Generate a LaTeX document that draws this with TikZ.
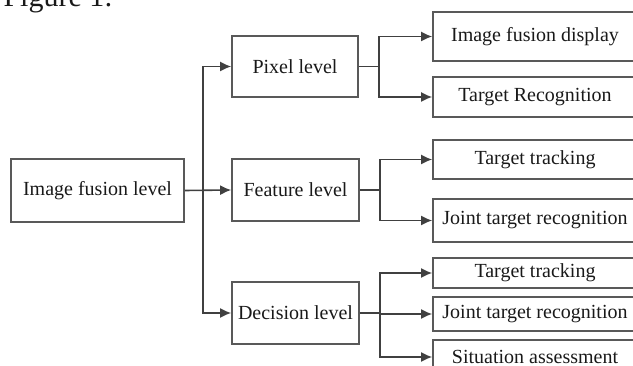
\documentclass[tikz,border=0pt]{standalone}
\usepackage{fontspec}
\setmainfont{Liberation Serif}
\usetikzlibrary{arrows.meta}
\begin{document}
\begin{tikzpicture}[x=1pt,y=-1pt,
  box/.style={draw=black!65,line width=1.6pt,inner sep=0pt,align=center,
    font=\fontsize{20}{24}\selectfont,text=black!90},
  conn/.style={draw=black!75,line width=1.6pt},
  arr/.style={conn,-{Latex[length=11pt,width=10pt]}}]
\useasboundingbox (0,0) rectangle (633,366);
\clip (0,0) rectangle (633,366);
\node[anchor=base west,font=\fontsize{30}{36}\selectfont,text=black!90] (fig) at (0,7) {Figure 1:};
% level boxes
\node[box,minimum width=173pt,minimum height=63pt] (ifl) at (97.5,190.5) {Image fusion level};
\node[box,minimum width=126pt,minimum height=61pt] (pix) at (295,66.5) {Pixel level};
\node[box,minimum width=127pt,minimum height=62pt] (feat) at (295.5,190) {Feature level};
\node[box,minimum width=127pt,minimum height=62pt] (dec) at (295.5,313) {Decision level};
% result boxes
\node[box,minimum width=204pt,minimum height=49pt] (r1) at (535,36.5) {Image fusion display};
\node[box,minimum width=204pt,minimum height=40pt] (r2) at (535,97) {Target Recognition};
\node[box,minimum width=204pt,minimum height=39pt] (r3) at (535,159.5) {Target tracking};
\node[box,minimum width=204pt,minimum height=43pt] (r4) at (535,220.5) {Joint target recognition};
\node[box,minimum width=204pt,minimum height=30pt] (r5) at (535,273) {Target tracking};
\node[box,minimum width=204pt,minimum height=34pt] (r6) at (535,314) {Joint target recognition};
\node[box,minimum width=204pt,minimum height=34pt] (r7) at (535,357) {Situation assessment};
% left tree
\coordinate (lj) at (203,190.5);
\draw[arr] (ifl.east) -- (feat.west);
\draw[arr] (lj) |- (pix.west);
\draw[arr] (lj) |- (dec.west);
% pixel
\draw[conn] (pix.east) -- ++(20,0) coordinate (pj);
\draw[arr] (pj) |- (r1.west);
\draw[arr] (pj) |- (r2.west);
% feature
\draw[conn] (feat.east) -- ++(20,0) coordinate (fj);
\draw[arr] (fj) |- (r3.west);
\draw[arr] (fj) |- (r4.west);
% decision
\draw[conn] (dec.east) -- ++(20,0) coordinate (dj);
\draw[arr] (dj) |- (r5.west);
\draw[arr] (dj) |- (r6.west);
\draw[arr] (dj) |- (r7.west);
\end{tikzpicture}
\end{document}
